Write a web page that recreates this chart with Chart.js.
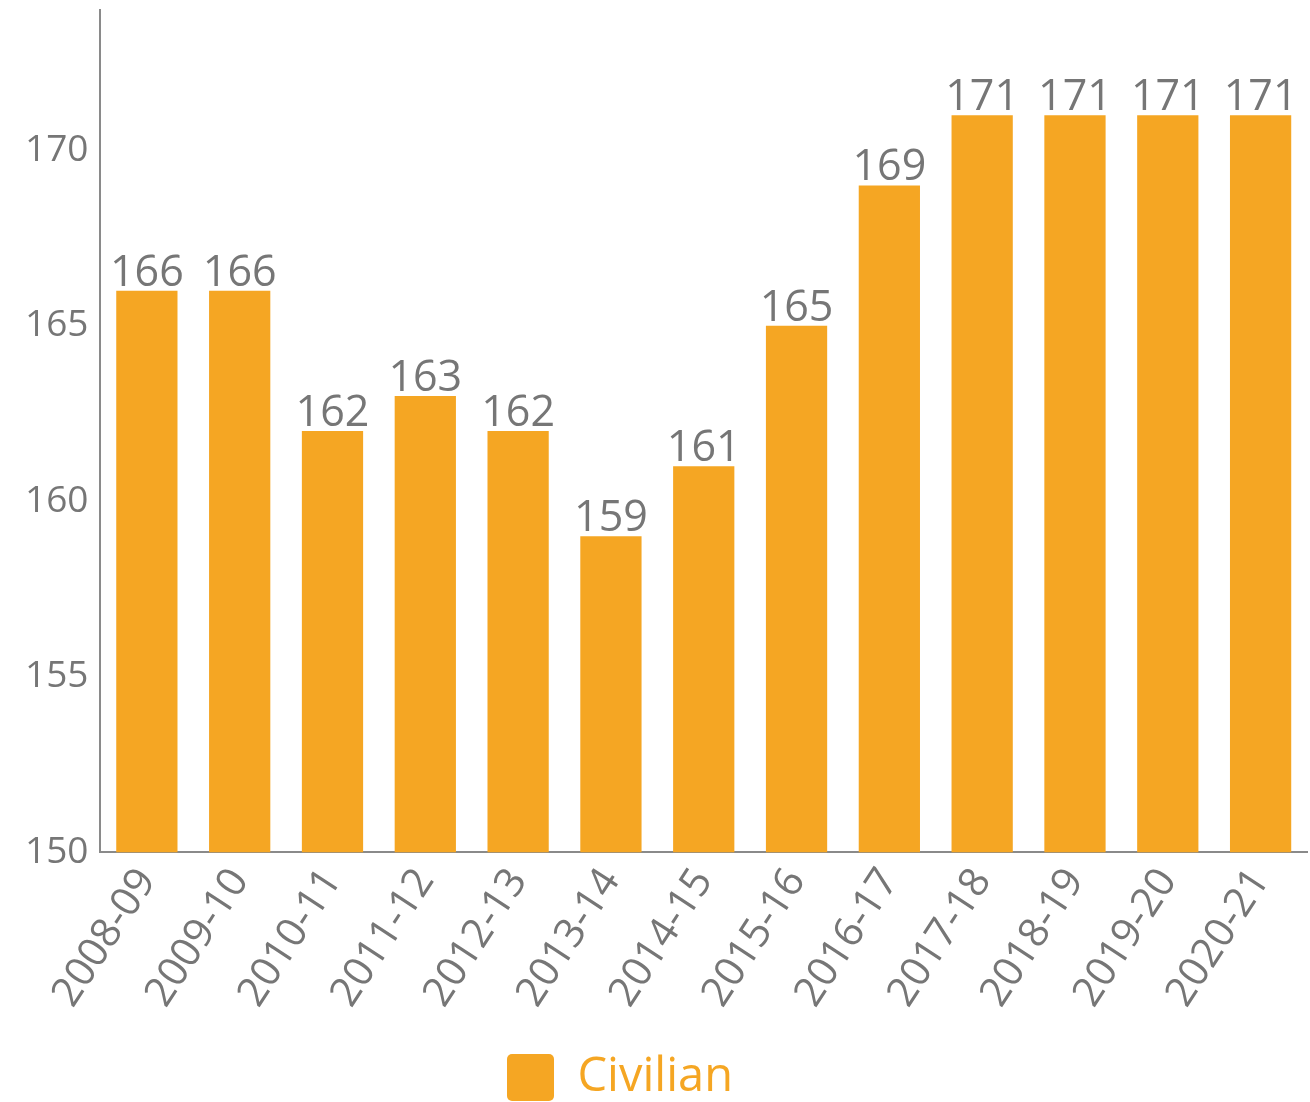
<!DOCTYPE html>
<html>
<head>
<meta charset="utf-8">
<script src="https://cdn.jsdelivr.net/npm/chart.js@4/dist/chart.umd.min.js"></script>
<style>
  html, body { margin: 0; padding: 0; background: #fff; }
  #wrap { width: 1310px; height: 1102px; }
</style>
</head>
<body>
<div id="wrap"><canvas id="chart"></canvas></div>
<script>
// chart data
const categories = ['2008-09', '2009-10', '2010-11', '2011-12', '2012-13', '2013-14', '2014-15',
  '2015-16', '2016-17', '2017-18', '2018-19', '2019-20', '2020-21'];
const civilian = [166, 166, 162, 163, 162, 159, 161, 165, 169, 171, 171, 171, 171];
const yTicks = [150, 155, 160, 165, 170];

const ORANGE = '#F5A623';
const GREY = '#767676';
const FONT = "'Open Sans', sans-serif";

// draws the value above each bar
const valueLabels = {
  id: 'valueLabels',
  afterDatasetsDraw(chart) {
    const ctx = chart.ctx;
    ctx.save();
    ctx.font = `43px ${FONT}`;
    ctx.fillStyle = GREY;
    ctx.textAlign = 'center';
    ctx.textBaseline = 'alphabetic';
    chart.getDatasetMeta(0).data.forEach((bar, i) => {
      ctx.fillText(String(civilian[i]), bar.x, bar.y - 5);
    });
    ctx.restore();
  }
};

// legend in the original sits a bit left of the canvas centre
const legendShift = {
  id: 'legendShift',
  afterLayout(chart) {
    chart.legend.left -= 40;
    chart.legend.right -= 40;
  }
};

new Chart(document.getElementById('chart').getContext('2d'), {
  type: 'bar',
  data: {
    labels: categories,
    datasets: [{
      label: 'Civilian',
      data: civilian,
      backgroundColor: ORANGE,
      borderWidth: 0,
      categoryPercentage: 1,
      barPercentage: 0.66
    }]
  },
  options: {
    responsive: true,
    maintainAspectRatio: false,
    animation: false,
    layout: {
      padding: { top: 10, right: 3, left: 13, bottom: -9 }
    },
    scales: {
      x: {
        grid: { display: false, drawTicks: false },
        border: { display: true, color: '#8a8a8a', width: 2 },
        ticks: {
          color: GREY,
          font: { size: 41, family: FONT },
          minRotation: 57,
          maxRotation: 57,
          padding: 8
        }
      },
      y: {
        min: 150,
        max: 174,
        grid: { display: false, drawTicks: false },
        border: { display: true, color: '#8a8a8a', width: 2 },
        afterBuildTicks(axis) {
          axis.ticks = yTicks.map(v => ({ value: v }));
        },
        afterFit(axis) {
          axis.paddingTop = 0;
        },
        ticks: {
          color: GREY,
          font: { size: 37, family: FONT },
          padding: 12
        }
      }
    },
    plugins: {
      legend: {
        position: 'bottom',
        labels: {
          color: ORANGE,
          font: { size: 47, family: FONT },
          boxWidth: 47,
          boxHeight: 47,
          useBorderRadius: true,
          borderRadius: 5,
          padding: 30
        }
      },
      tooltip: { enabled: false }
    }
  },
  plugins: [valueLabels, legendShift]
});
</script>
</body>
</html>
